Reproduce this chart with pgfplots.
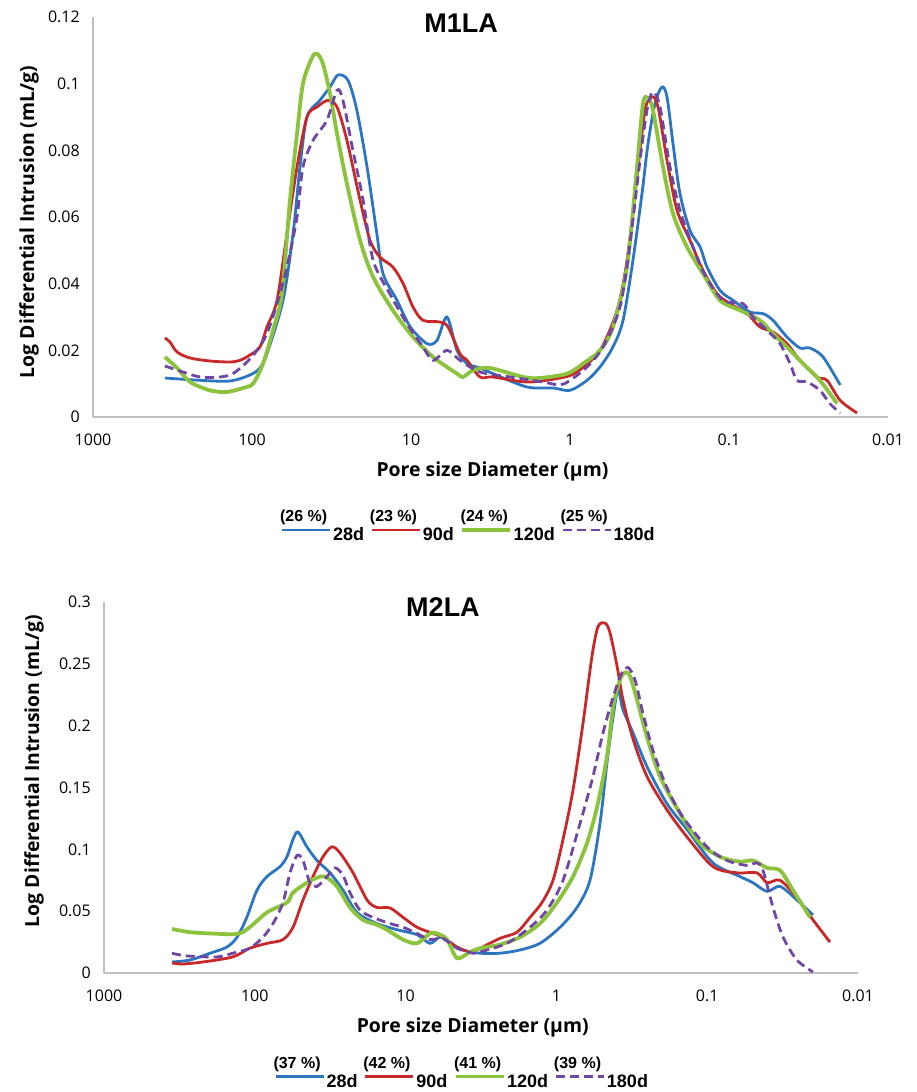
\documentclass[border=0pt]{standalone}
\usepackage{fontspec}
\setmainfont{Open Sans}
\newfontfamily\arialf{Liberation Sans}
\usepackage{pgfplots}
\pgfplotsset{compat=1.18}
\definecolor{c28}{RGB}{44,117,192}
\definecolor{c90}{RGB}{200,40,40}
\definecolor{c120}{RGB}{140,195,60}
\definecolor{c180}{RGB}{112,70,165}
\newcommand{\tickfont}{\fontsize{16}{19}\selectfont}
\newcommand{\labfont}{\bfseries\fontsize{19.4}{22}\selectfont}
\newcommand{\titfont}{\arialf\bfseries\fontsize{27}{30}\selectfont}
\newcommand{\legfont}{\arialf\bfseries\fontsize{18}{20}\selectfont}
\newcommand{\pctfont}{\arialf\bfseries\fontsize{16}{18}\selectfont}
\newcommand{\pct}[2]{\makebox[0pt][l]{\hspace{-53pt}\raisebox{19pt}[0pt][0pt]{\pctfont #1}}#2}
\pgfplotsset{legend image code/.code={\draw[#1] (0pt,5pt) -- (48pt,5pt);}}
\begin{document}
\begin{tikzpicture}
\useasboundingbox (0pt,0pt) rectangle (917pt,1092pt);
% ---------------- M1LA ----------------
\begin{axis}[
    at={(93pt,675pt)}, anchor=south west, width=795pt, height=400pt,
    scale only axis, xmode=log, x dir=reverse, xmin=0.01, xmax=1000, ymin=0, ymax=0.12,
    enlargelimits=false, clip=false,
    axis x line*=bottom, axis y line*=left,
    axis line style={draw=black!25, line width=1.6pt},
    major tick length=0pt, minor tick length=0pt,
    xtick={1000,100,10,1,0.1,0.01}, xticklabels={1000,100,10,1,0.1,0.01},
    ytick={0,0.02,0.04,0.06,0.08,0.1,0.12},
    yticklabels={0,0.02,0.04,0.06,0.08,0.1,0.12},
    /pgf/number format/assume math mode=true,
    ticklabel style={font=\tickfont},
    xticklabel style={anchor=base, yshift=-29pt},
    yticklabel style={anchor=east, inner sep=0pt, xshift=-13pt},
    xlabel={Pore size Diameter (µm)},
    ylabel={Log Differential Intrusion (mL/g)},
    label style={font=\labfont},
    xlabel style={anchor=center, at={(axis description cs:0.5025,-0.135)}},
    ylabel style={anchor=center, at={(axis description cs:-0.0805,0.4875)}},
    title={M1LA},
    title style={anchor=center, font=\titfont, at={(axis description cs:0.463,0.970)}},
    legend columns=4,
    legend style={draw=none, fill=none, font=\legfont, anchor=west, inner sep=0pt,
      at={(axis description cs:0.236,-0.2950)},
      nodes={inner sep=1.5pt},
      /tikz/every even column/.append style={column sep=5pt}},
    legend cell align=left]
\addplot[c28, line width=2.8pt, smooth] table {
353 0.0117
212 0.0110
137.5 0.0108
103 0.0126
89.1 0.0147
80.5 0.019
63.8 0.035
55.2 0.055
49.9 0.075
45.1 0.090
37.4 0.095
32.3 0.099
28.8 0.1026
24.9 0.101
21.9 0.092
18.9 0.075
16.4 0.055
15.0 0.043
12.25 0.035
10.1 0.027
7.93 0.022
6.86 0.023
5.94 0.030
5.14 0.020
4.44 0.016
3.68 0.0147
3.05 0.013
1.864 0.009
1.279 0.0087
1.0 0.008
0.782 0.011
0.648 0.015
0.537 0.021
0.464 0.029
0.402 0.047
0.3526 0.067
0.323 0.082
0.292 0.094
0.264 0.099
0.2454 0.096
0.225 0.082
0.2034 0.067
0.176 0.056
0.152 0.051
0.1375 0.045
0.114 0.038
0.0944 0.035
0.0738 0.0315
0.0611 0.031
0.0529 0.029
0.0432 0.024
0.0358 0.0207
0.0310 0.0207
0.0256 0.018
0.0200 0.0096
};
\addlegendentry{\pct{(26 \%)}{28d}}
\addplot[c90, line width=2.8pt, smooth] table {
353 0.0237
328 0.0225
296 0.0195
245 0.0177
184 0.0168
137.5 0.0165
119 0.0170
103 0.0186
89.1 0.021
80.5 0.027
69.6 0.035
60.3 0.055
52.1 0.075
45.1 0.090
39.0 0.093
33.3 0.095
29.2 0.093
25.3 0.083
20.9 0.065
18.1 0.053
15.7 0.048
13.0 0.045
11.2 0.040
9.71 0.033
8.40 0.029
6.57 0.0285
5.85 0.027
4.92 0.019
4.44 0.017
3.68 0.012
3.05 0.012
1.864 0.0105
1.156 0.0117
0.904 0.0135
0.648 0.020
0.506 0.032
0.438 0.047
0.379 0.072
0.3375 0.092
0.305 0.096
0.2796 0.093
0.2454 0.077
0.2123 0.062
0.176 0.053
0.1457 0.044
0.119 0.037
0.0986 0.034
0.0770 0.031
0.0638 0.027
0.0529 0.0255
0.0432 0.022
0.0358 0.017
0.0280 0.012
0.0242 0.011
0.0200 0.005
0.01567 0.0012
};
\addlegendentry{\pct{(23 \%)}{90d}}
\addplot[c120, line width=3.8pt, smooth] table {
353 0.018
296 0.0147
245 0.0105
184 0.008
144 0.0075
114 0.0087
98.6 0.010
85.3 0.016
73.8 0.026
64.8 0.037
57.7 0.065
52.1 0.085
47.8 0.100
42.0 0.1077
39.0 0.109
35.8 0.106
32.3 0.097
29.2 0.085
25.3 0.070
20.9 0.053
17.3 0.042
13.0 0.032
9.71 0.024
7.27 0.018
5.14 0.013
4.71 0.012
4.075 0.014
3.185 0.0147
1.975 0.012
1.544 0.0117
1.044 0.013
0.828 0.016
0.648 0.020
0.537 0.027
0.438 0.045
0.379 0.075
0.3475 0.094
0.323 0.0957
0.3006 0.092
0.260 0.075
0.225 0.061
0.1837 0.051
0.1457 0.043
0.114 0.035
0.0853 0.032
0.0638 0.029
0.0529 0.025
0.0432 0.021
0.0342 0.016
0.0268 0.011
0.0209 0.004
};
\addlegendentry{\pct{(24 \%)}{120d}}
\addplot[c180, line width=2.8pt, smooth, dash pattern=on 9pt off 5pt] table {
353 0.0153
272 0.0135
212 0.012
159 0.012
132 0.013
107.5 0.0165
93.0 0.020
80.5 0.025
68.6 0.035
60.3 0.045
52.1 0.060
47.8 0.075
41.3 0.083
33.8 0.089
29.2 0.098
26.8 0.095
23.2 0.080
20.0 0.065
17.3 0.047
13.6 0.037
10.6 0.028
8.40 0.021
7.27 0.017
5.94 0.020
4.92 0.017
3.68 0.0135
2.384 0.012
1.478 0.0105
1.156 0.0096
1.0 0.011
0.782 0.015
0.620 0.021
0.4848 0.033
0.4195 0.052
0.3628 0.077
0.328 0.092
0.3006 0.0975
0.2716 0.093
0.235 0.075
0.2034 0.062
0.1684 0.051
0.1416 0.0426
0.109 0.035
0.0817 0.034
0.0707 0.030
0.0577 0.026
0.0478 0.022
0.0413 0.016
0.0374 0.011
0.0323 0.0105
0.0268 0.008
0.0232 0.004
0.0200 0.0012
};
\addlegendentry{\pct{(25 \%)}{180d}}
\end{axis}
% ---------------- M2LA ----------------
\begin{axis}[
    at={(104pt,119pt)}, anchor=south west, width=754pt, height=371pt,
    scale only axis, xmode=log, x dir=reverse, xmin=0.01, xmax=1000, ymin=0, ymax=0.3,
    enlargelimits=false, clip=false,
    axis x line*=bottom, axis y line*=left,
    axis line style={draw=black!25, line width=1.6pt},
    major tick length=0pt, minor tick length=0pt,
    xtick={1000,100,10,1,0.1,0.01}, xticklabels={1000,100,10,1,0.1,0.01},
    ytick={0,0.05,0.1,0.15,0.2,0.25,0.3},
    yticklabels={0,0.05,0.1,0.15,0.2,0.25,0.3},
    /pgf/number format/assume math mode=true,
    ticklabel style={font=\tickfont},
    xticklabel style={anchor=base, yshift=-29pt},
    yticklabel style={anchor=east, inner sep=0pt, xshift=-13pt},
    xlabel={Pore size Diameter (µm)},
    ylabel={Log Differential Intrusion (mL/g)},
    label style={font=\labfont},
    xlabel style={anchor=center, at={(axis description cs:0.489,-0.1456)}},
    ylabel style={anchor=center, at={(axis description cs:-0.0928,0.544)}},
    title={M2LA},
    title style={anchor=center, font=\titfont, at={(axis description cs:0.4496,0.970)}},
    legend columns=4,
    legend style={draw=none, fill=none, font=\legfont, anchor=west, inner sep=0pt,
      at={(axis description cs:0.2255,-0.2925)},
      nodes={inner sep=1.5pt},
      /tikz/every even column/.append style={column sep=5pt}},
    legend cell align=left]
\addplot[c28, line width=2.8pt, smooth] table {
354 0.0089
269 0.0105
198 0.016
153 0.021
131 0.029
113 0.045
96.7 0.067
83.0 0.078
68.1 0.086
61.2 0.094
55.8 0.108
51.7 0.114
45.1 0.102
38.7 0.091
31.7 0.081
26.0 0.067
21.0 0.049
15.5 0.040
11.4 0.035
8.40 0.031
6.89 0.024
5.91 0.029
5.08 0.024
4.16 0.0186
3.21 0.016
2.37 0.016
1.743 0.0186
1.285 0.024
0.946 0.037
0.730 0.053
0.599 0.075
0.514 0.121
0.462 0.170
0.421 0.207
0.390 0.229
0.362 0.213
0.310 0.194
0.251 0.167
0.185 0.137
0.136 0.116
0.0915 0.089
0.0606 0.078
0.0497 0.073
0.0401 0.066
0.0329 0.070
0.0254 0.059
0.0199 0.047
};
\addlegendentry{\pct{(37 \%)}{28d}}
\addplot[c90, line width=2.8pt, smooth] table {
354 0.0081
299 0.0073
221 0.0089
140 0.013
108 0.020
83.0 0.024
65.0 0.027
55.8 0.037
47.9 0.059
41.1 0.078
35.3 0.094
30.8 0.102
27.2 0.097
22.3 0.081
18.0 0.059
15.5 0.053
12.7 0.0526
10.4 0.045
8.40 0.037
6.58 0.032
5.65 0.029
4.56 0.021
3.74 0.017
3.21 0.020
2.37 0.028
1.825 0.033
1.496 0.045
1.246 0.057
1.053 0.075
0.904 0.108
0.776 0.148
0.666 0.202
0.581 0.256
0.530 0.280
0.476 0.283
0.441 0.275
0.396 0.248
0.362 0.221
0.310 0.189
0.251 0.159
0.185 0.132
0.136 0.110
0.0915 0.086
0.0634 0.081
0.0468 0.081
0.0401 0.073
0.0329 0.075
0.0254 0.061
0.0199 0.043
0.01534 0.025
};
\addlegendentry{\pct{(42 \%)}{90d}}
\addplot[c120, line width=3.8pt, smooth] table {
354 0.0356
269 0.033
198 0.032
131 0.0316
108 0.037
83.0 0.049
61.2 0.057
55.8 0.065
45.1 0.073
38.7 0.077
34.2 0.078
28.5 0.070
23.4 0.053
19.2 0.043
15.5 0.039
13.3 0.035
10.4 0.027
8.40 0.024
6.89 0.032
6.19 0.032
5.31 0.027
4.56 0.012
3.74 0.017
3.21 0.020
2.37 0.023
1.743 0.029
1.285 0.040
0.991 0.057
0.776 0.078
0.627 0.105
0.538 0.134
0.462 0.175
0.421 0.215
0.379 0.237
0.351 0.243
0.325 0.240
0.292 0.221
0.251 0.191
0.2056 0.159
0.1515 0.129
0.1116 0.105
0.0822 0.094
0.0606 0.090
0.0497 0.091
0.0401 0.085
0.0329 0.083
0.0270 0.067
0.0208 0.045
};
\addlegendentry{\pct{(41 \%)}{120d}}
\addplot[c180, line width=2.8pt, smooth, dash pattern=on 9pt off 5pt] table {
354 0.016
282 0.0138
178 0.013
140 0.016
108 0.020
88.2 0.029
75.7 0.040
65.0 0.057
58.4 0.081
52.5 0.095
47.9 0.091
43.1 0.073
38.7 0.070
33.2 0.078
29.4 0.085
26.0 0.079
23.4 0.065
20.1 0.051
16.5 0.045
12.7 0.040
10.4 0.037
8.40 0.032
6.89 0.027
5.65 0.028
4.56 0.020
3.57 0.016
3.21 0.017
2.13 0.024
1.496 0.037
1.154 0.051
0.904 0.075
0.697 0.121
0.572 0.159
0.491 0.194
0.421 0.223
0.367 0.243
0.335 0.247
0.301 0.237
0.2666 0.210
0.2288 0.180
0.185 0.150
0.1447 0.126
0.1003 0.102
0.0739 0.091
0.0545 0.087
0.0468 0.089
0.0427 0.083
0.0366 0.053
0.0314 0.029
0.0254 0.0105
0.0199 0.0008
};
\addlegendentry{\pct{(39 \%)}{180d}}
\end{axis}
\end{tikzpicture}
\end{document}
